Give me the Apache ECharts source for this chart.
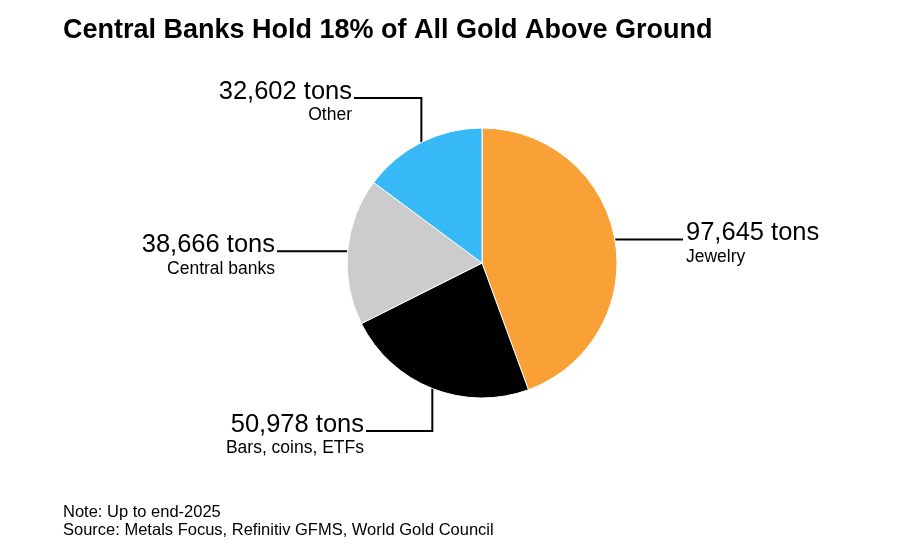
<!DOCTYPE html>
<html><head><meta charset="utf-8">
<script src="https://cdn.jsdelivr.net/npm/echarts@6/dist/echarts.min.js"></script>
<style>html,body{margin:0;padding:0;background:#fff}#c{width:905px;height:551px}</style>
</head><body><div id="c"></div>
<script>
const categories = ['Jewelry', 'Bars, coins, ETFs', 'Central banks', 'Other'];
const values = [97645, 50978, 38666, 32602];
const colors = ['#f9a136', '#000000', '#cccccc', '#38b9f7'];
const titleText = 'Central Banks Hold 18% of All Gold Above Ground';
const noteText = 'Note: Up to end-2025';
const sourceText = 'Source: Metals Focus, Refinitiv GFMS, World Gold Council';

// leader-line layout (styling): mode, elbow coordinate, end x
const labelGeom = [
  {mode: 'h', endX: 683, side: 'left'},
  {mode: 'v', elbowY: 431, endX: 366, side: 'right'},
  {mode: 'h', endX: 277, side: 'right'},
  {mode: 'v', elbowY: 98, endX: 354, side: 'right'}
];

const chart = echarts.init(document.getElementById('c'), null, {renderer: 'canvas'});
const FONT = '"Liberation Sans", Arial, Helvetica, sans-serif';
chart.setOption({
  animation: false,
  backgroundColor: '#fff',
  title: {
    text: titleText, left: 58, top: 12,
    textStyle: {fontFamily: FONT, fontWeight: 'bold', fontSize: 27, color: '#000'}
  },
  graphic: [
    {type: 'text', left: 63, top: 504, style: {text: noteText, font: '16.5px ' + FONT, fill: '#000'}},
    {type: 'text', left: 63, top: 522, style: {text: sourceText, font: '16.5px ' + FONT, fill: '#000'}}
  ],
  series: [{
    type: 'pie',
    center: [482, 263],
    radius: [0, 135],
    startAngle: 90,
    clockwise: true,
    itemStyle: {borderColor: '#fff', borderWidth: 1},
    label: {
      show: true,
      formatter: p => '{v|' + p.value.toLocaleString('en-US') + ' tons}\n{n|' + p.name + '}',
      rich: {
        v: {fontFamily: FONT, fontSize: 25.5, color: '#000', lineHeight: 26},
        n: {fontFamily: FONT, fontSize: 17.5, color: '#000', lineHeight: 21}
      }
    },
    labelLine: {show: true, length: 20, length2: 20, lineStyle: {color: '#000', width: 2}},
    labelLayout: function (params) {
      const g = labelGeom[params.dataIndex];
      const s = params.labelLinePoints ? params.labelLinePoints[0] : [0, 0];
      let pts, lineY;
      if (g.mode === 'h') {
        lineY = s[1];
        pts = [[s[0], s[1]], [s[0], s[1]], [g.endX, s[1]]];
      } else {
        lineY = g.elbowY;
        pts = [[s[0], s[1]], [s[0], g.elbowY], [g.endX, g.elbowY]];
      }
      return {
        x: g.side === 'left' ? g.endX + 3 : g.endX - 2,
        y: lineY - 19,
        align: g.side,
        verticalAlign: 'top',
        labelLinePoints: pts
      };
    },
    data: categories.map((c, i) => ({name: c, value: values[i], itemStyle: {color: colors[i]},
      label: {rich: {v: {align: labelGeom[i].side}, n: {align: labelGeom[i].side}}}}))
  }]
});
</script></body></html>
